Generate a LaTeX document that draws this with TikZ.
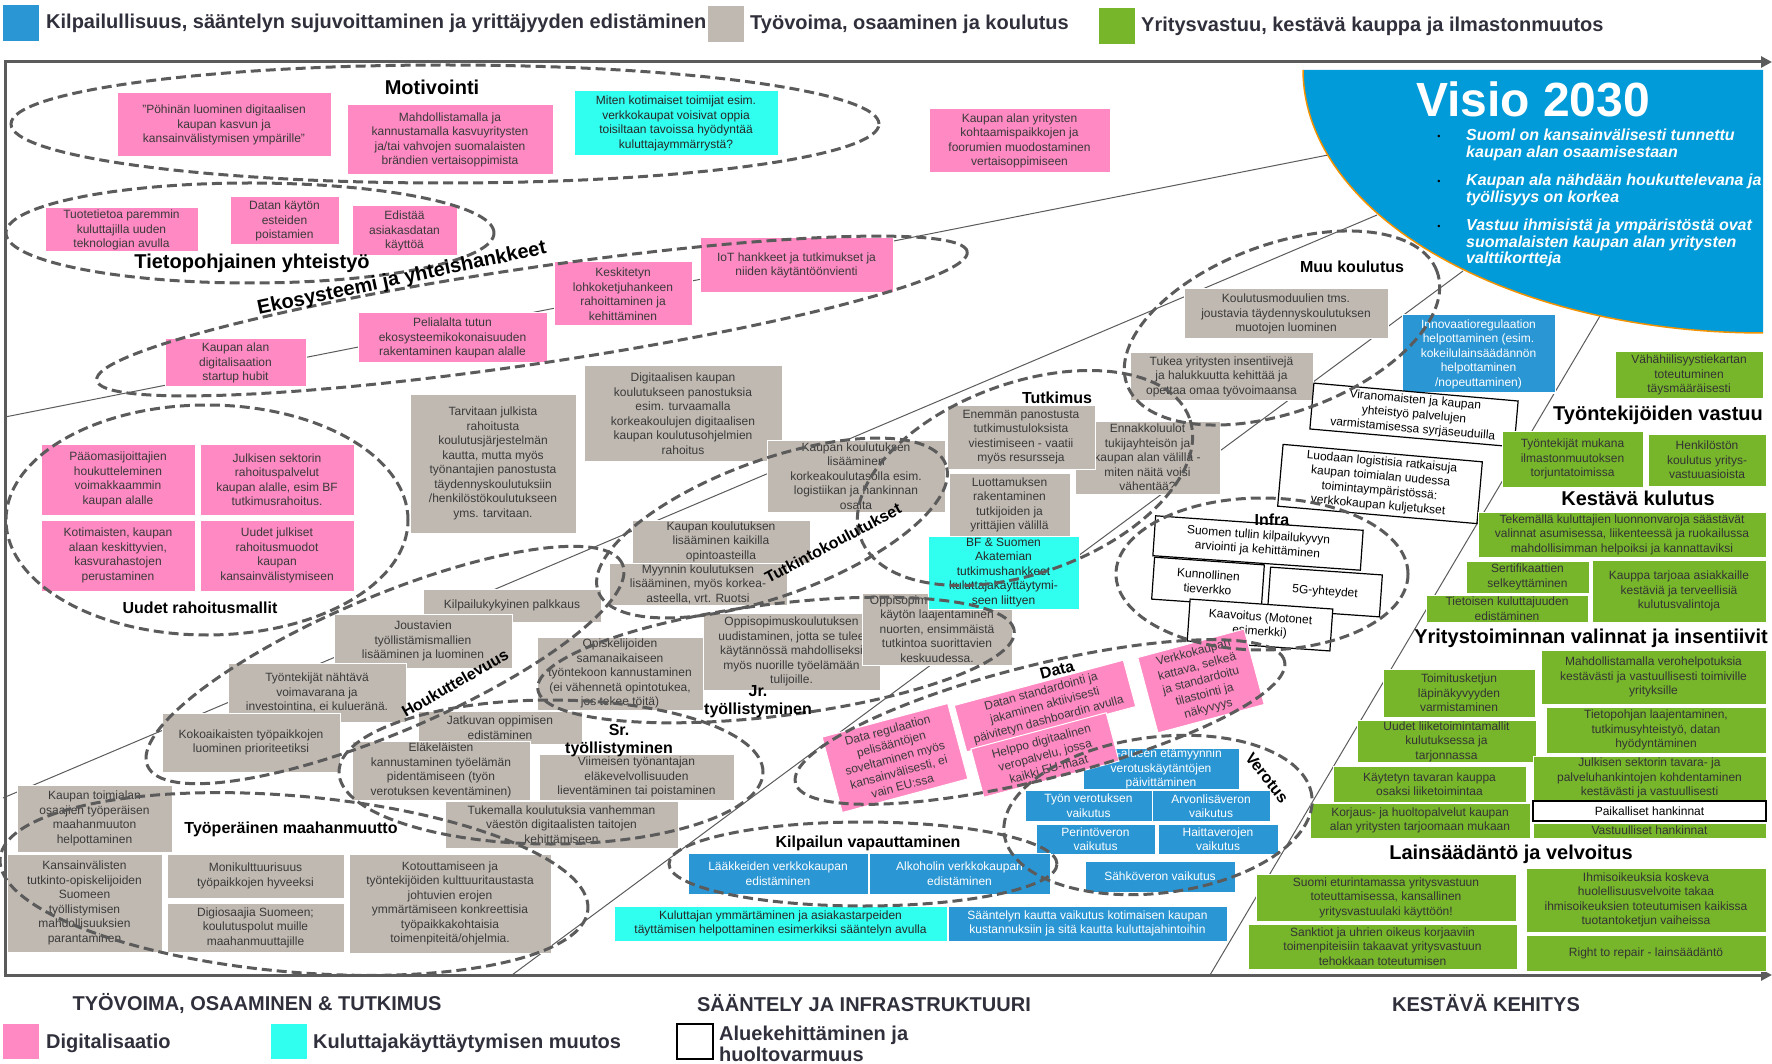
\documentclass[tikz,border=0pt]{standalone}
\usepackage{fontspec}
\setmainfont{Liberation Sans}
\usetikzlibrary{shapes.geometric, arrows.meta}
\definecolor{framegray}{HTML}{5B5B5B}
\definecolor{legink}{HTML}{30303C}
\definecolor{boxink}{HTML}{3A3A3A}
\definecolor{digipink}{HTML}{FF89C2}
\definecolor{workgray}{HTML}{C0B9B1}
\definecolor{consumercyan}{HTML}{30FFF0}
\definecolor{regblue}{HTML}{2A96D4}
\definecolor{sustgreen}{HTML}{77B62B}
\definecolor{visioblue}{HTML}{009BD8}
\definecolor{visioorange}{HTML}{F39200}
\newcommand{\boxfont}{\fontsize{12}{14.5}\selectfont}
\newcommand{\lblfont}{\fontsize{16}{18}\selectfont\bfseries}
\newcommand{\biglblfont}{\fontsize{20}{22}\selectfont\bfseries}
\tikzset{
  card/.style      = {rectangle, draw=white, line width=1pt, inner sep=0.5pt,
                      align=center, font=\boxfont, text=boxink},
  pinkbox/.style   = {card, fill=digipink},
  graybox/.style   = {card, fill=workgray},
  cyanbox/.style   = {card, fill=consumercyan, text=black!85},
  bluebox/.style   = {card, fill=regblue, text=white},
  greenbox/.style  = {card, fill=sustgreen, text=black!80},
  whitebox/.style  = {card, fill=white, draw=black, line width=1.2pt, text=black},
  sz/.style 2 args = {minimum width=#1, minimum height=#2},
  dashell/.style   = {ellipse, draw=framegray, line width=3pt,
                      dash pattern=on 10pt off 5pt, inner sep=0pt},
  theme/.style     = {font=\lblfont, text=black, inner sep=0pt, align=center},
  bigtheme/.style  = {font=\biglblfont, text=black, inner sep=0pt},
  ray/.style       = {draw=framegray, line width=1pt},
  axisline/.style  = {draw=framegray, line width=3pt,
                      {Triangle[length=11pt,width=11pt]}-{Triangle[length=11pt,width=11pt]}},
  legsq/.style     = {rectangle, minimum width=36, minimum height=36, inner sep=0pt},
  legtext/.style   = {font=\biglblfont, text=legink, anchor=west, inner sep=0pt, align=left},
  axislabel/.style = {font=\biglblfont, text=legink, inner sep=0pt},
  visiotext/.style = {font=\fontsize{16}{16.5}\selectfont\bfseries\itshape, text=white,
                      anchor=west, align=left, inner sep=0pt},
}

\begin{document}
\begin{tikzpicture}[x=1pt, y=-1pt]
\useasboundingbox (0,0) rectangle (1772,1064);

% ---- Axes ----
\coordinate (topend) at (1772,62);
\coordinate (topleft) at (5,62);
\coordinate (botleft) at (5,975);
\coordinate (botend) at (1772,975);
\draw[axisline] (topend) -- (topleft) -- (botleft) -- (botend);

% ---- Rays towards the vision ----
\coordinate (rayAfrom) at (5,417);    \coordinate (rayAto) at (1328,155);
\coordinate (rayBfrom) at (3,798);    \coordinate (rayBto) at (1377,215);
\coordinate (rayCfrom) at (512,975);  \coordinate (rayCto) at (1463,271);
\coordinate (rayDfrom) at (1210,975); \coordinate (rayDto) at (1600,316);
\draw[ray] (rayAfrom) -- (rayAto);
\draw[ray] (rayBfrom) -- (rayBto);
\draw[ray] (rayCfrom) -- (rayCto);
\draw[ray] (rayDfrom) -- (rayDto);

% ---- Visio 2030 ----
\fill[visioblue] (1303,70) -- (1763,70) -- (1763,333)
  -- plot[domain=90:180, samples=60] ({1763+460*cos(\x)},{70+263*sin(\x)}) -- cycle;
\draw[visioorange, line width=1.5pt]
  plot[domain=90:180, samples=60] ({1763+460*cos(\x)},{70+263*sin(\x)});
\node[font=\fontsize{48}{50}\selectfont\bfseries, text=white, inner sep=0pt] (visio) at (1533,99) {Visio 2030};
\node[font=\fontsize{9}{9}\selectfont, text=black, inner sep=0pt] (dot1) at (1439,137) {\textbullet};
\node[font=\fontsize{9}{9}\selectfont, text=black, inner sep=0pt] (dot2) at (1439,182) {\textbullet};
\node[font=\fontsize{9}{9}\selectfont, text=black, inner sep=0pt] (dot3) at (1439,227) {\textbullet};
\node[visiotext] (vis1) at (1466,145) {Suoml on kansainvälisesti tunnettu\\kaupan alan osaamisestaan};
\node[visiotext] (vis2) at (1466,190) {Kaupan ala nähdään houkuttelevana ja\\työllisyys on korkea};
\node[visiotext] (vis3) at (1466,243) {Vastuu ihmisistä ja ympäristöstä ovat\\suomalaisten kaupan alan yritysten\\valttikortteja};

% ---- Digitalisaatio: top ----
\node[pinkbox, sz={214}{64}] (pohina) at (224,125) {"Pöhinän luominen digitaalisen\\kaupan kasvun ja\\kansainvälistymisen ympärille"};
\node[pinkbox, sz={206}{70}] (vertais) at (450,140) {Mahdollistamalla ja\\kannustamalla kasvuyritysten\\ja/tai vahvojen suomalaisten\\brändien vertaisoppimista};
\node[cyanbox, sz={204}{65}] (kotimaiset) at (676,123.5) {Miten kotimaiset toimijat esim.\\verkkokaupat voisivat oppia\\toisiltaan tavoissa hyödyntää\\kuluttajaymmärrystä?};
\node[pinkbox, sz={181}{64}] (foorumi) at (1019.5,141) {Kaupan alan yritysten\\kohtaamispaikkojen ja\\foorumien muodostaminen\\vertaisoppimiseen};
\node[pinkbox, sz={153}{44}] (tuotetieto) at (121.5,230) {Tuotetietoa paremmin\\kuluttajilla uuden\\teknologian avulla};
\node[pinkbox, sz={109}{48}] (datanesteet) at (284.5,221) {Datan käytön\\esteiden\\poistamien};
\node[pinkbox, sz={105}{50}] (asiakasdata) at (404.5,231) {Edistää\\asiakasdatan\\käyttöä};
\node[pinkbox, sz={138}{64}] (lohkoketju) at (623,294) {Keskitetyn\\lohkoketjuhankeen\\rahoittaminen ja\\kehittäminen};
\node[pinkbox, sz={193}{55}] (iot) at (796.5,265.5) {IoT hankkeet ja tutkimukset ja\\niiden käytäntöönvienti};
\node[pinkbox, sz={189}{50}] (peliala) at (452.5,338) {Pelialalta tutun\\ekosysteemikokonaisuuden\\rakentaminen kaupan alalle};
\node[pinkbox, sz={141}{48}] (startup) at (235.5,363) {Kaupan alan\\digitalisaation\\startup hubit};

% ---- Uudet rahoitusmallit ----
\node[pinkbox, sz={154}{71}] (paaoma) at (118,479.5) {Pääomasijoittajien\\houkutteleminen\\voimakkaammin\\kaupan alalle};
\node[pinkbox, sz={154}{71}] (julkrahoitus) at (277,479.5) {Julkisen sektorin\\rahoituspalvelut\\kaupan alalle, esim BF\\tutkimusrahoitus.};
\node[pinkbox, sz={154}{71}] (kasvurahasto) at (118,555.5) {Kotimaisten, kaupan\\alaan keskittyvien,\\kasvurahastojen\\perustaminen};
\node[pinkbox, sz={154}{71}] (rahoitusmuodot) at (277,555.5) {Uudet julkiset\\rahoitusmuodot\\kaupan\\kansainvälistymiseen};

% ---- Koulutus ja tutkimus ----
\node[graybox, sz={204}{50}] (moduulit) at (1286,314) {Koulutusmoduulien tms.\\joustavia täydennyskoulutuksen\\muotojen luominen};
\node[graybox, sz={183}{47}] (insentiivit) at (1221.5,376.5) {Tukea yritysten insentiivejä\\ja halukkuutta kehittää ja\\opettaa omaa työvoimaansa};
\node[bluebox, sz={153}{78}] (innoreg) at (1478.5,354) {Innovaatioregulaation\\helpottaminen (esim.\\kokeilulainsäädännön\\helpottaminen\\/nopeuttaminen)};
\node[graybox, sz={166}{139}] (julkrahoitus2) at (493,463.5) {Tarvitaan julkista\\rahoitusta\\koulutusjärjestelmän\\kautta, mutta myös\\työnantajien panostusta\\täydennyskoulutuksiin\\/henkilöstökoulutukseen\\yms. tarvitaan.};
\node[graybox, sz={198}{95}] (digikoulutus) at (683,413.5) {Digitaalisen kaupan\\koulutukseen panostuksia\\esim. turvaamalla\\korkeakoulujen digitaalisen\\kaupan koulutusohjelmien\\rahoitus};
\node[graybox, sz={178}{72}] (korkeakoulu) at (856,476) {Kaupan koulutuksen\\lisääminen\\korkeakoulutasolla esim.\\logistiikan ja hankinnan\\osalta};
\node[graybox, sz={178}{43}] (opintoasteet) at (721,541.5) {Kaupan koulutuksen\\lisääminen kaikilla\\opintoasteilla};
\node[graybox, sz={178}{42}] (myynti) at (698,584) {Myynnin koulutuksen\\lisääminen, myös korkea-\\asteella, vrt. Ruotsi};
\node[graybox, sz={145}{73}] (ennakko) at (1147.5,457.5) {Ennakkoluulot\\tukijayhteisön ja\\kaupan alan välillä -\\miten näitä voisi\\vähentää?};
\node[graybox, sz={148}{64}] (viestinta) at (1021,437) {Enemmän panostusta\\tutkimustuloksista\\viestimiseen - vaatii\\myös resursseja};
\node[graybox, sz={121}{64}] (luottamus) at (1009.5,505) {Luottamuksen\\rakentaminen\\tutkijoiden ja\\yrittäjien välillä};
\node[graybox, sz={177}{77}] (oppisuudistus) at (791.5,651.5) {Oppisopimuskoulutuksen\\uudistaminen, jotta se tulee\\käytännössä mahdolliseksi\\myös nuorille työelämään\\tulijoille.};
\node[graybox, sz={150}{72}] (oppilaajennus) at (937,629) {Oppisopimuskoulutuksen\\käytön laajentaminen\\nuorten, ensimmäistä\\tutkintoa suorittavien\\keskuudessa.};
\node[cyanbox, sz={151}{73}] (akatemia) at (1003.5,572.5) {BF \& Suomen\\Akatemian\\tutkimushankkeet\\kuluttajakäyttäytymi-\\seen liittyen};

% ---- Houkuttelevuus ja työllistyminen ----
\node[graybox, sz={166}{73}] (opiskelijat) at (620,673.5) {Opiskelijoiden\\samanaikaiseen\\työntekoon kannustaminen\\(ei vähennetä opintotukea,\\jos tekee töitä)};
\node[graybox, sz={178}{33}] (palkkaus) at (512,605.5) {Kilpailukykyinen palkkaus};
\node[graybox, sz={178}{54}] (joustavat) at (423,641) {Joustavien\\työllistämismallien\\lisääminen ja luominen};
\node[graybox, sz={178}{59}] (voimavara) at (317,692.5) {Työntekijät nähtävä\\voimavarana ja\\investointina, ei kulueränä.};
\node[graybox, sz={178}{59}] (kokoaikaiset) at (251,742.5) {Kokoaikaisten työpaikkojen\\luominen prioriteetiksi};
\node[graybox, sz={164}{33}] (jatkuva) at (500,727.5) {Jatkuvan oppimisen\\edistäminen};
\node[graybox, sz={178}{59}] (elakelaiset) at (441,770.5) {Eläkeläisten\\kannustaminen työelämän\\pidentämiseen (työn\\verotuksen keventäminen)};
\node[graybox, sz={195}{46}] (viimeinen) at (636.5,777) {Viimeisen työnantajan\\eläkevelvollisuuden\\lieventäminen tai poistaminen};
\node[graybox, sz={233}{47}] (digitaidot) at (561.5,824.5) {Tukemalla koulutuksia vanhemman\\väestön digitaalisten taitojen\\kehittämiseen};

% ---- Työperäinen maahanmuutto ----
\node[graybox, sz={155}{67}] (osaajat) at (94.5,818.5) {Kaupan toimialan\\osaajien työperäisen\\maahanmuuton\\helpottaminen};
\node[graybox, sz={155}{98}] (tutkinto) at (84.5,903) {Kansainvälisten\\tutkinto-opiskelijoiden\\Suomeen\\työllistymisen\\mahdollisuuksien\\parantaminen};
\node[graybox, sz={177}{44}] (monikult) at (255.5,876) {Monikulttuurisuus\\työpaikkojen hyveeksi};
\node[graybox, sz={177}{49}] (digiosaajat) at (255.5,927.5) {Digiosaajia Suomeen;\\koulutuspolut  muille\\maahanmuuttajille};
\node[graybox, sz={202}{99}] (kotoutus) at (450,903.5) {Kotouttamiseen ja\\työntekijöiden kulttuuritaustasta\\johtuvien erojen\\ymmärtämiseen konkreettisia\\työpaikkakohtaisia\\toimenpiteitä/ohjelmia.};

% ---- Aluekehittäminen ja infra ----
\node[whitebox, sz={205}{46}, rotate=-5] (viranom) at (1414,415) {Viranomaisten ja kaupan\\yhteistyö palvelujen\\varmistamisessa syrjäseuduilla};
\node[whitebox, sz={200}{62}, rotate=-5] (logistiikka) at (1380,484) {Luodaan logistisia ratkaisuja\\kaupan toimialan uudessa\\toimintaympäristössä:\\verkkokaupan kuljetukset};
\node[whitebox, sz={208}{40}, rotate=-4] (tulli) at (1258,543) {Suomen tullin kilpailukyvyn\\arviointi ja kehittäminen};
\node[whitebox, sz={110}{42}, rotate=-4] (tieverkko) at (1208,582) {Kunnollinen\\tieverkko};
\node[whitebox, sz={112}{42}, rotate=-4] (fiveg) at (1325,592) {5G-yhteydet};
\node[whitebox, sz={143}{42}, rotate=-4] (kaavoitus) at (1260,625) {Kaavoitus (Motonet\\esimerkki)};

% ---- Verotus ja kilpailu ----
\node[bluebox, sz={156}{40}] (etamyynti) at (1161,769) {EU-alueen etämyynnin\\verotuskäytäntöjen\\päivittäminen};
\node[bluebox, sz={127}{31}] (tyonvero) at (1088.5,805.5) {Työn verotuksen\\vaikutus};
\node[bluebox, sz={118}{31}] (alv) at (1211,806) {Arvonlisäveron\\vaikutus};
\node[bluebox, sz={119}{30}] (perinto) at (1095.5,839) {Perintöveron\\vaikutus};
\node[bluebox, sz={120}{30}] (haitta) at (1218,839) {Haittaverojen\\vaikutus};
\node[bluebox, sz={150}{31}] (sahko) at (1160,876.5) {Sähköveron vaikutus};
\node[bluebox, sz={180}{41}] (laakkeet) at (778,873.5) {Lääkkeiden verkkokaupan\\edistäminen};
\node[bluebox, sz={181}{41}] (alkoholi) at (959.5,873.5) {Alkoholin verkkokaupan\\edistäminen};
\node[cyanbox, sz={333}{35}] (asiakastarve) at (780.5,923.5) {Kuluttajan ymmärtäminen ja asiakastarpeiden\\täyttämisen helpottaminen esimerkiksi sääntelyn avulla};
\node[bluebox, sz={279}{35}] (kustannus) at (1087.5,923.5) {Sääntelyn kautta vaikutus kotimaisen kaupan\\kustannuksiin ja sitä kautta kuluttajahintoihin};

% ---- Data ----
\node[pinkbox, sz={130}{78}, rotate=15] (dataregul) at (895,758) {Data regulaation\\pelisääntöjen\\soveltaminen myös\\kansainvälisesti, ei\\vain EU:ssa};
\node[pinkbox, sz={175}{48}, rotate=15] (dashboard) at (1045,706) {Datan standardointi ja\\jakaminen aktiivisesti\\päivitetyn dashboardin avulla};
\node[pinkbox, sz={140}{50}, rotate=15] (veropalvelu) at (1045,755) {Helppo digitaalinen\\veropalvelu, jossa\\kaikki EU-maat};
\node[pinkbox, sz={110}{78}, rotate=15] (tilastointi) at (1201,681) {Verkkokaupan\\kattava, selkeä\\ja standardoitu\\tilastointi ja\\näkyvyys};

% ---- Kestävä kehitys ----
\node[greenbox, sz={148}{46}] (tiekartta) at (1689,375) {Vähähiilisyystiekartan\\toteutuminen\\täysmääräisesti};
\node[greenbox, sz={141}{56}] (torjunta) at (1572.5,459) {Työntekijät mukana\\ilmastonmuutoksen\\torjuntatoimissa};
\node[greenbox, sz={118}{52}] (henkilosto) at (1707,460) {Henkilöstön\\koulutus yritys-\\vastuuasioista};
\node[greenbox, sz={288}{45}] (luonnonvarat) at (1622,534.5) {Tekemällä kuluttajien luonnonvaroja säästävät\\valinnat asumisessa, liikenteessä ja ruokailussa\\mahdollisimman helpoiksi ja kannattaviksi};
\node[greenbox, sz={123}{32}] (sertifikaatti) at (1527.5,577) {Sertifikaattien\\selkeyttäminen};
\node[greenbox, sz={162}{27}] (tietoinen) at (1507,608.5) {Tietoisen kuluttajuuden\\edistäminen};
\node[greenbox, sz={174}{62}] (kulutusvalinta) at (1679,591) {Kauppa tarjoaa asiakkaille\\kestäviä ja terveellisiä\\kulutusvalintoja};
\node[greenbox, sz={152}{48}] (toimitusketju) at (1459,693) {Toimitusketjun\\läpinäkyvyyden\\varmistaminen};
\node[greenbox, sz={225}{54}] (verohelpotus) at (1653.5,677) {Mahdollistamalla verohelpotuksia\\kestävästi ja vastuullisesti toimiville\\yrityksille};
\node[greenbox, sz={179}{41}] (liiketoiminta) at (1446.5,741.5) {Uudet liiketoimintamallit\\kulutuksessa ja\\tarjonnassa};
\node[greenbox, sz={220}{46}] (tietopohja) at (1656,730) {Tietopohjan laajentaminen,\\tutkimusyhteistyö, datan\\hyödyntäminen};
\node[greenbox, sz={193}{36}] (kaytetty) at (1429.5,784) {Käytetyn tavaran kauppa\\osaksi liiketoimintaa};
\node[greenbox, sz={233}{44}] (julkhankinta) at (1649.5,778) {Julkisen sektorin tavara- ja\\palveluhankintojen kohdentaminen\\kestävästi ja vastuullisesti};
\node[whitebox, sz={233}{20}] (paikalliset) at (1649.5,811) {Paikalliset hankinnat};
\node[greenbox, sz={233}{15}] (vastuulliset) at (1649.5,830.5) {Vastuulliset hankinnat};
\node[greenbox, sz={220}{35}] (korjaus) at (1420,820.5) {Korjaus- ja huoltopalvelut kaupan\\alan yritysten tarjoomaan mukaan};
\node[greenbox, sz={260}{47}] (yritysvastuulaki) at (1386,897.5) {Suomi eturintamassa yritysvastuun\\toteuttamisessa, kansallinen\\yritysvastuulaki käyttöön!};
\node[greenbox, sz={269}{45}] (sanktiot) at (1382.5,946.5) {Sanktiot ja uhrien oikeus korjaaviin\\toimenpiteisiin takaavat yritysvastuun\\tehokkaan toteutumisen};
\node[greenbox, sz={240}{64}] (ihmisoikeus) at (1646,900) {Ihmisoikeuksia koskeva\\huolellisuusvelvoite takaa\\ihmisoikeuksien toteutumisen kaikissa\\tuotantoketjun vaiheissa};
\node[greenbox, sz={240}{36}] (repair) at (1646,953) {Right to repair - lainsäädäntö};

% ===== Dashed theme ellipses =====
\node[dashell, minimum width=868, minimum height=118] (ellMotiv) at (445,124) {};
\node[dashell, minimum width=488, minimum height=100] (ellTieto) at (250,233) {};
\node[dashell, minimum width=880, minimum height=96, rotate=8.4] (ellEko) at (532,316) {};
\node[dashell, minimum width=402, minimum height=230] (ellRaha) at (207,520) {};
\node[dashell, minimum width=330, minimum height=168, rotate=20] (ellMuu) at (1282,328) {};
\node[dashell, minimum width=370, minimum height=136, rotate=20] (ellTutkinto) at (772,528) {};
\node[dashell, minimum width=350, minimum height=190, rotate=20] (ellTutkimus) at (1025,478) {};
\node[dashell, minimum width=516, minimum height=136, rotate=23] (ellHouk) at (385,665) {};
\node[dashell, minimum width=424, minimum height=144] (ellSr) at (551,772) {};
\node[dashell, minimum width=480, minimum height=112, rotate=7] (ellJr) at (776,660) {};
\node[dashell, minimum width=590, minimum height=176, rotate=-5] (ellTyoper) at (294,884) {};
\node[dashell, minimum width=504, minimum height=114, rotate=14] (ellData) at (1040,722) {};
\node[dashell, minimum width=292, minimum height=152] (ellInfra) at (1262,574) {};
\node[dashell, minimum width=388, minimum height=84] (ellKilp) at (863,864) {};
\node[dashell, minimum width=310, minimum height=156, rotate=7] (ellVero) at (1158,815) {};

% ===== Theme labels =====
\node[bigtheme] (lblMotiv) at (432,87) {Motivointi};
\node[bigtheme] (lblTieto) at (252,263) {Tietopohjainen yhteistyö};
\node[bigtheme, rotate=12] (lblEko) at (402,279) {Ekosysteemi ja yhteishankkeet};
\node[theme] (lblRaha) at (200,608) {Uudet rahoitusmallit};
\node[theme] (lblMuu) at (1352,267) {Muu koulutus};
\node[theme] (lblTutkimus) at (1057,398) {Tutkimus};
\node[theme, rotate=28] (lblTutkinto) at (833,543) {Tutkintokoulutukset};
\node[theme, rotate=30] (lblHouk) at (455,683) {Houkuttelevuus};
\node[theme] (lblJr) at (758,702) {Jr.\\työllistyminen};
\node[theme] (lblSr) at (619,741) {Sr.\\työllistyminen};
\node[theme] (lblTyoper) at (291,829) {Työperäinen maahanmuutto};
\node[theme, rotate=15] (lblData) at (1057,670) {Data};
\node[theme] (lblInfra) at (1272,520) {Infra};
\node[theme] (lblKilp) at (868,843) {Kilpailun vapauttaminen};
\node[theme, rotate=-52] (lblVero) at (1267,778) {Verotus};
\node[bigtheme] (lblTyontek) at (1658,415) {Työntekijöiden vastuu};
\node[bigtheme] (lblKulutus) at (1638,498) {Kestävä kulutus};
\node[bigtheme] (lblYritys) at (1591,638) {Yritystoiminnan valinnat ja insentiivit};
\node[bigtheme] (lblLaki) at (1511,854) {Lainsäädäntö ja velvoitus};

% ===== Legend and axis labels =====
\node[legsq, fill=regblue] (legBlue) at (21,23) {};
\node[legtext] (legBlueTxt) at (46,23) {Kilpailullisuus, sääntelyn sujuvoittaminen ja yrittäjyyden edistäminen};
\node[legsq, fill=workgray] (legGray) at (726,24) {};
\node[legtext] (legGrayTxt) at (750,24) {Työvoima, osaaminen ja koulutus};
\node[legsq, fill=sustgreen] (legGreen) at (1117,26) {};
\node[legtext] (legGreenTxt) at (1141,26) {Yritysvastuu, kestävä kauppa ja ilmastonmuutos};

\node[axislabel] (axTyo) at (257,1003) {TYÖVOIMA, OSAAMINEN \& TUTKIMUS};
\node[axislabel] (axSaant) at (864,1003) {SÄÄNTELY JA INFRASTRUKTUURI};
\node[axislabel] (axKest) at (1486,1003) {KESTÄVÄ KEHITYS};

\node[legsq, fill=digipink, minimum height=35] (legPink) at (21,1041.5) {};
\node[legtext] (legPinkTxt) at (46,1043) {Digitalisaatio};
\node[legsq, fill=consumercyan, minimum height=35] (legCyan) at (289,1041.5) {};
\node[legtext] (legCyanTxt) at (313,1043) {Kuluttajakäyttäytymisen muutos};
\node[legsq, draw=black, line width=1.5pt, fill=white, minimum height=35] (legWhite) at (695,1041.5) {};
\node[legtext, font=\fontsize{20}{21}\selectfont\bfseries] (legWhiteTxt) at (719,1044) {Aluekehittäminen ja\\huoltovarmuus};

\end{tikzpicture}
\end{document}
